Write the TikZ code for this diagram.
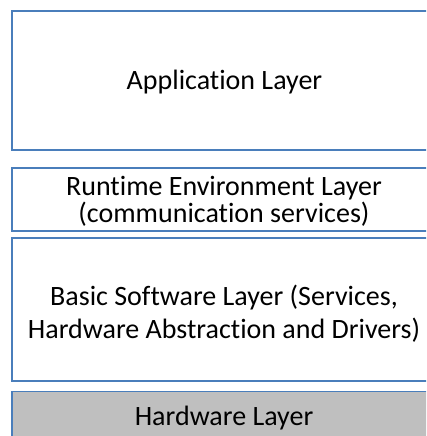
\documentclass[tikz,border=0pt]{standalone}
\usepackage{fontspec}
\setmainfont{Carlito}[Ligatures=NoCommon]
\definecolor{edge}{HTML}{4A7EBB}
\definecolor{hwfill}{HTML}{BFBFBF}
\tikzset{
  layer/.style={draw=edge, line width=1.2pt},
  lbl/.style={font=\fontsize{28}{33}\selectfont, align=center, inner sep=0pt, text=black, anchor=base},
}
\begin{document}
\begin{tikzpicture}[x=1pt,y=-1pt]
\useasboundingbox (0,0) rectangle (426,436);
\begin{scope}
\clip (0,0) rectangle (426,436);
\draw[layer] (12,11) rectangle (440,150);
\draw[layer] (12,168) rectangle (440,231);
\draw[layer] (12,238) rectangle (440,381);
\draw[layer, fill=hwfill] (12,391.5) rectangle (440,445);
\end{scope}
\node[lbl] (app) at (224.5,89) {Application Layer};
\node[lbl, font=\fontsize{28}{27}\selectfont] (rte) at (224,222.5) {Runtime Environment Layer\\(communication services)};
\node[lbl] (bsw) at (224,338) {Basic Software Layer (Services,\\Hardware Abstraction and Drivers)};
\node[lbl] (hw) at (224,425) {Hardware Layer};
\end{tikzpicture}
\end{document}
